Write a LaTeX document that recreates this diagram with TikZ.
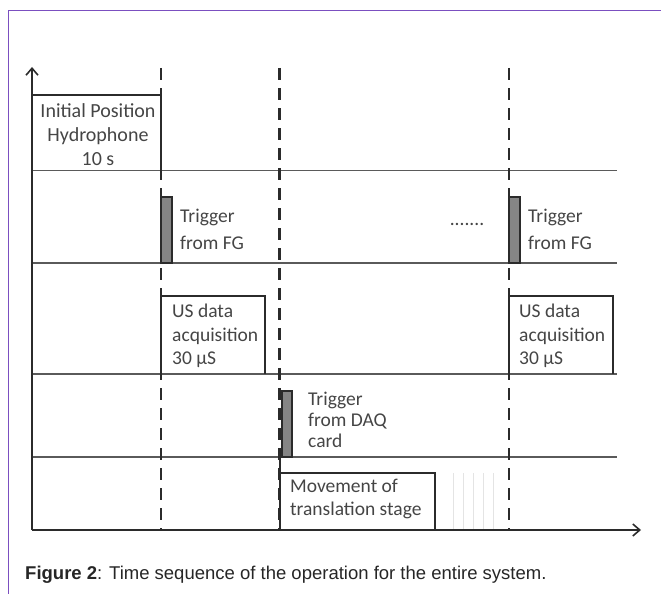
\documentclass[tikz,border=0pt]{standalone}
\usepackage{fontspec}
\setmainfont{Carlito}
\newfontfamily\capfont{Liberation Sans}
\usetikzlibrary{arrows.meta}
\definecolor{frameviolet}{HTML}{7B4FC0}
\definecolor{lanegray}{HTML}{5A5A5A}
\definecolor{boxdark}{HTML}{2B2B2B}
\definecolor{labelgray}{HTML}{454545}
\definecolor{bargray}{HTML}{858585}
\definecolor{faintgray}{HTML}{E4E4E4}
\begin{document}
\begin{tikzpicture}[x=1pt,y=-1pt,
  lane/.style={draw=lanegray, line width=1.8pt},
  axisline/.style={draw=boxdark, line width=1.6pt, -{Straight Barb[length=7pt,width=12pt,line width=1.6pt]}},
  timemark/.style={draw=boxdark, line width=2.2pt, dash pattern=on 12pt off 8pt},
  eventbox/.style={draw=boxdark, line width=2.4pt},
  triggerbar/.style={draw=boxdark, fill=bargray, line width=2pt},
  label/.style={text=labelgray, font=\fontsize{19.5}{23.5}\selectfont, inner sep=0pt, align=left},
  faint/.style={draw=faintgray, line width=0.8pt}
]
\useasboundingbox (0,0) rectangle (661,594);
% frame
\draw[frameviolet, line width=1.2pt] (661,10.5) -- (8.7,10.5) -- (8.7,594);

% lane separators
\draw[lane] (32,170.5) -- (617,170.5);
\draw[lane] (32,263) -- (617,263);
\draw[lane] (32,374) -- (617,374);
\draw[lane] (32,457) -- (617,457);

% faint traces after movement
\foreach \xx in {453,463,473,483,493} \draw[faint] (\xx,473) -- (\xx,530);

% event boxes
\draw[eventbox] (32,95) -- (161,95) -- (161,170.5);
\draw[eventbox] (161,374) -- (161,295.7) -- (265,295.7) -- (265,374);
\draw[eventbox] (509,374) -- (509,295.7) -- (613,295.7) -- (613,374);
\draw[eventbox] (280,457) -- (280,530);
\draw[eventbox] (280,473) -- (435,473) -- (435,530);

% trigger bars
\draw[triggerbar] (161,196.7) rectangle (172.3,263);
\draw[triggerbar] (509,196.7) rectangle (520,263);
\draw[triggerbar] (281.7,390.7) rectangle (291.7,457);

% dashed time marks
\draw[timemark] (161,68) -- (161,530);
\draw[timemark] (279.5,68) -- (279.5,530);
\draw[timemark] (509,68) -- (509,530);

% axes
\coordinate (origin) at (32,530);
\coordinate (ytip) at (32,67);
\coordinate (xtip) at (641,530);
\draw[axisline] (origin) -- (ytip);
\draw[axisline] (origin) -- (xtip);

% labels
\node[label, align=center, font=\fontsize{20}{24}\selectfont] (init) at (98,135) {Initial Position\\Hydrophone\\10 s};
\node[label, anchor=west, font=\fontsize{19.5}{27}\selectfont] (trigfg1) at (180,229) {Trigger\\from FG};
\node[label, anchor=west, font=\fontsize{19.5}{27}\selectfont] (trigfg2) at (528,229) {Trigger\\from FG};
\node[label] (dots) at (467,224) {.......};
\node[label, anchor=west] (usdaq1) at (172,336) {US data\\acquisition\\30 µS};
\node[label, anchor=west] (usdaq2) at (519,336) {US data\\acquisition\\30 µS};
\node[label, anchor=west, font=\fontsize{19.5}{21}\selectfont] (trigdaq) at (308,420) {Trigger\\from DAQ\\card};
\node[label, anchor=west] (move) at (290,499) {Movement of\\translation stage};

% caption
\node[anchor=west, inner sep=0pt, text=black!85, font=\capfont\fontsize{18.5}{21}\selectfont] (caption) at (25,575) {\textbf{Figure 2}: Time sequence of the operation for the entire system.};
\end{tikzpicture}
\end{document}
